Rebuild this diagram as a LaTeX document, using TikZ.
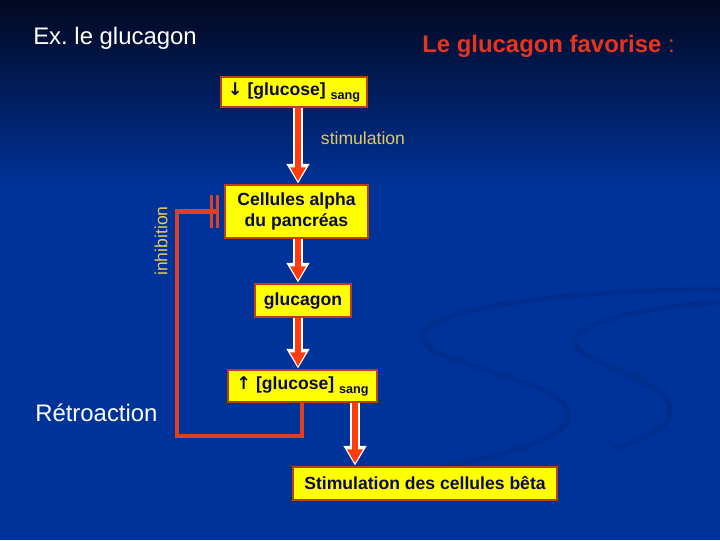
\documentclass[tikz,border=0pt]{standalone}
\usepackage{fontspec}
\setmainfont{Liberation Sans}
\newfontfamily\arrowfont{DejaVu Sans}
\usetikzlibrary{arrows.meta}
\definecolor{BgTop}{RGB}{2,8,32}
\definecolor{BgBlue}{RGB}{0,51,153}
\definecolor{BgSwirl}{RGB}{0,46,143}
\definecolor{BoxYellow}{RGB}{255,255,0}
\definecolor{BoxEdge}{RGB}{190,62,28}
\definecolor{TextNavy}{RGB}{10,10,70}
\definecolor{ArrowRed}{RGB}{255,60,10}
\definecolor{LoopRed}{RGB}{222,64,36}
\definecolor{LabelGold}{RGB}{228,200,96}
\definecolor{TitleRed}{RGB}{230,52,30}
\tikzset{
	box/.style={draw=BoxEdge, line width=2pt, fill=BoxYellow, text=TextNavy,
		font=\fontsize{12.5}{15}\selectfont\bfseries, inner sep=0pt, align=center},
	flow/.style={draw=ArrowRed, line width=4.3pt, -{Triangle[width=10.5pt,length=10pt]},
		shorten >=1.6pt,
		preaction={draw=white, line width=7.2pt, shorten >=0pt,
			-{Triangle[width=15.5pt,length=14pt]}}},
	feedback/.style={draw=LoopRed, line width=3pt},
	blocker/.style={-{Bar[width=23pt,line width=2.2pt,sep=1.6pt]Bar[width=23pt,line width=2.2pt]},
		shorten >=3.5pt},
	heading/.style={font=\fontsize{17}{20}\selectfont, anchor=west, inner sep=0pt},
	flowlabel/.style={text=LabelGold, font=\fontsize{12.5}{15}\selectfont},
	swirl/.style={draw=BgSwirl, line width=4pt, line cap=round}
}
\newcommand{\sang}{{\fontsize{9}{10}\selectfont\raisebox{-2.8pt}{sang}}}
\newcommand{\fleche}[1]{{\arrowfont\bfseries #1}}

\begin{document}
\begin{tikzpicture}[x=0.025cm, y=-0.025cm]

	% Background
	\useasboundingbox (0,0) rectangle (720,540);
	\shade[top color=BgTop, bottom color=BgBlue] (0,0) rectangle (720,190);
	\fill[BgBlue] (0,189) rectangle (720,540);

	% Faint swirl in the background
	\draw[swirl] (720,290) .. controls (600,288) and (430,305) .. (422,335)
		.. controls (415,362) and (560,378) .. (568,412)
		.. controls (574,440) and (500,455) .. (440,468);
	\draw[swirl] (720,302) .. controls (640,308) and (578,322) .. (575,340)
		.. controls (572,362) and (668,378) .. (670,408)
		.. controls (672,430) and (640,440) .. (615,448);

	% Titles
	\node[heading, text=white] (title) at (33,38) {Ex.\ le glucagon};
	\node[heading, text=TitleRed] (claim) at (422,46) {\bfseries Le glucagon favorise\mdseries\ :};

	% Boxes
	\node[box, minimum width=3.65cm, minimum height=0.75cm] (b1) at (294,92)
		{\fleche{↓} [glucose] \sang};
	\node[box, minimum width=3.575cm, minimum height=1.325cm] (b2) at (296.5,211.5)
		{Cellules alpha\\du pancréas};
	\node[box, minimum width=2.4cm, minimum height=0.825cm] (b3) at (303,300.5)
		{glucagon};
	\node[box, minimum width=3.725cm, minimum height=0.8cm] (b4) at (302.5,386)
		{\fleche{↑} [glucose] \sang};
	\node[box, minimum width=6.6cm, minimum height=0.825cm] (b5) at (425,483.5)
		{Stimulation des cellules bêta};

	% Arrow columns
	\coordinate (spine) at (298,0);
	\coordinate (side) at (355,0);

	% Main chain
	\draw[flow] (b1.south -| spine) -- (b2.north -| spine);
	\draw[flow] (b2.south -| spine) -- (b3.north -| spine);
	\draw[flow] (b3.south -| spine) -- (b4.north -| spine);
	\draw[flow] (b4.south -| side) -- (b5.north -| side);

	\node[flowlabel, anchor=west] (stim) at (316,138) {stimulation};

	% Feedback loop back to the alpha cells
	\coordinate (fbr) at (302,436);
	\coordinate (fbl) at (177,436);
	\draw[feedback, blocker] (b4.south -| fbr) -- (fbr) -- (fbl) -- (fbl |- b2.west) -- (b2.west);

	\node[flowlabel, rotate=90] (inhib) at (161,241) {inhibition};
	\node[heading, text=white] (retro) at (35,413) {Rétroaction};

\end{tikzpicture}
\end{document}
